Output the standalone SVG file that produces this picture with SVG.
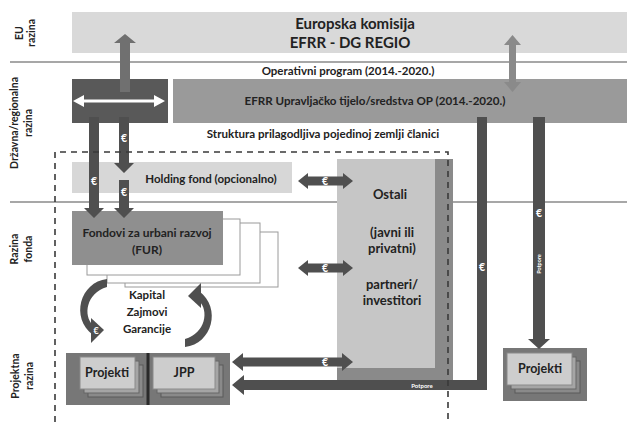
<svg xmlns="http://www.w3.org/2000/svg" width="627" height="422" viewBox="0 0 627 422">
<style>
text{font-family:Lato,"Liberation Sans",Arial,sans-serif;font-weight:bold;fill:#222}
.c{text-anchor:middle}
.lbl{font-size:10.5px}
.eu{font-size:10.5px;fill:#fff}
.w{fill:#fff}
.ar{fill:#4f4f4f}
.sep{stroke:#8a8a8a;stroke-width:1.3;fill:none}
.dash{stroke:#3a3a3a;stroke-width:1.6;fill:none;stroke-dasharray:6 5}
.stk{fill:#fff;stroke:#9a9a9a;stroke-width:1}
.pk{fill:#777}
.pa{fill:#8a8a8a;stroke:#5a5a5a;stroke-width:1}
.pb{fill:#a5a5a5;stroke:#666;stroke-width:1}
.pc{fill:#cdcdcd;stroke:#8a8a8a;stroke-width:1}
</style>

<!-- level separators -->
<g id="separators">
<line class="sep" x1="10" y1="62" x2="627" y2="62"/>
<line class="sep" x1="10" y1="202" x2="627" y2="202"/>
</g>

<!-- level labels -->
<g id="level-labels">
<g transform="translate(0,33) rotate(-90)"><text class="c lbl" x="0" y="23">EU</text><text class="c lbl" x="0" y="35">razina</text></g>
<g transform="translate(0,123) rotate(-90)"><text class="c lbl" x="0" y="18">Državna/regionalna</text><text class="c lbl" x="0" y="32">razina</text></g>
<g transform="translate(0,249) rotate(-90)"><text class="c lbl" x="0" y="18">Razina</text><text class="c lbl" x="0" y="32">fonda</text></g>
<g transform="translate(0,376) rotate(-90)"><text class="c lbl" x="0" y="19">Projektna</text><text class="c lbl" x="0" y="33">razina</text></g>
</g>

<g id="eu-commission">
<rect x="72" y="12" width="555" height="41" fill="#d9d9d9"/>
<text class="c" x="355" y="29" font-size="15">Europska komisija</text>
<text class="c" x="350" y="48" font-size="15">EFRR - DG REGIO</text>
</g>

<g id="operativni-program">
<text class="c" x="348" y="75" font-size="11.5">Operativni program (2014.-2020.)</text>
</g>

<g id="national-box">
<rect x="72" y="79" width="96" height="44" fill="#595959"/>
<polygon fill="#fff" points="73,101 84,95 84,99.5 154,99.5 154,95 165,101 154,107 154,102.5 84,102.5 84,107"/>
</g>

<g id="efrr-managing">
<rect x="173" y="79" width="454" height="44" fill="#9a9a9a"/>
<text class="c" x="375" y="105" font-size="11.6">EFRR Upravljačko tijelo/sredstva OP (2014.-2020.)</text>
</g>

<g id="struktura-label">
<text class="c" x="323" y="138" font-size="11.6">Struktura prilagodljiva pojedinoj zemlji članici</text>
</g>

<g id="holding-fond">
<rect x="72" y="162" width="220" height="31" fill="#d7d7d7"/>
<text class="c" x="211" y="183" font-size="11.5">Holding fond (opcionalno)</text>
</g>

<g id="fur">
<rect class="stk" x="125" y="232" width="153" height="55"/>
<rect class="stk" x="107" y="223" width="153" height="60"/>
<rect class="stk" x="87" y="219" width="153" height="56"/>
<rect x="72" y="211" width="151" height="54" fill="#8f8f8f"/>
<text class="c" x="147" y="237" font-size="12">Fondovi za urbani razvoj</text>
<text class="c" x="147" y="254" font-size="12">(FUR)</text>
</g>

<g id="instruments">
<text class="c" x="147" y="299" font-size="11.5">Kapital</text>
<text class="c" x="147" y="316" font-size="11.5">Zajmovi</text>
<text class="c" x="147" y="333" font-size="11.5">Garancije</text>
</g>

<g id="ostali">
<rect x="337" y="159" width="116" height="221" fill="#8a8a8a"/>
<line class="sep" x1="435" y1="202" x2="453" y2="202"/>
<rect x="337" y="159" width="98" height="209" fill="#c6c6c6"/>
<text class="c" x="390" y="199" font-size="13">Ostali</text>
<text class="c" x="392" y="237" font-size="13">(javni ili</text>
<text class="c" x="392" y="253" font-size="13">privatni)</text>
<text class="c" x="392" y="289" font-size="13">partneri/</text>
<text class="c" x="392" y="305" font-size="13">investitori</text>
</g>

<g id="projekti-jpp">
<rect class="pk" x="66" y="353" width="164" height="52"/>
<rect class="pa" x="88" y="365" width="55" height="32"/>
<rect class="pb" x="84" y="361" width="55" height="32"/>
<rect class="pc" x="80" y="357" width="55" height="32"/>
<rect class="pa" x="161" y="365" width="62" height="32"/>
<rect class="pb" x="157" y="361" width="62" height="32"/>
<rect class="pc" x="153" y="357" width="62" height="32"/>
<rect x="146.5" y="353" width="3" height="52" fill="#2a2a2a"/>
<text class="c" x="107" y="377" font-size="12.5">Projekti</text>
<text class="c" x="184" y="377" font-size="12.5">JPP</text>
</g>

<g id="projekti-right">
<rect class="pk" x="503" y="348" width="84" height="53"/>
<rect class="pa" x="515" y="361" width="65" height="32"/>
<rect class="pb" x="511" y="357" width="65" height="32"/>
<rect class="pc" x="507" y="353" width="65" height="32"/>
<text class="c" x="540" y="373" font-size="12.5">Projekti</text>
</g>

<g id="connectors">
<!-- EU up arrow -->
<polygon fill="#707070" points="120,92 120,43 114,43 125,34 136,43 130,43 130,92"/>
<!-- EU <-> managing authority -->
<polygon fill="#8a8a8a" points="512.5,35 521,45 516,45 516,82 521,82 512.5,92 504,82 509,82 509,45 504,45"/>
<!-- down arrows -->
<polygon class="ar" points="89,117 99,117 99,208 104,208 94,218 84,208 89,208"/>
<polygon class="ar" points="119,117 129,117 129,163 134,163 124,173 114,163 119,163"/>
<polygon class="ar" points="119,180 129,180 129,208 134,208 124,218 114,208 119,208"/>
<text class="eu c" x="94" y="185">€</text>
<text class="eu c" x="124" y="142">€</text>
<text class="eu c" x="124" y="196">€</text>
<!-- double arrows to Ostali -->
<polygon class="ar" points="298,181 308,173 308,176.5 343,176.5 343,173 353,181 343,189 343,185.5 308,185.5 308,189"/>
<polygon class="ar" points="298,268 308,260 308,263.5 343,263.5 343,260 353,268 343,276 343,272.5 308,272.5 308,276"/>
<polygon class="ar" points="232,362 243,353 243,357.5 342,357.5 342,353 353,362 342,371 342,366.5 243,366.5 243,371"/>
<text class="eu c" x="325" y="185">€</text>
<text class="eu c" x="325" y="272">€</text>
<text class="eu c" x="325" y="366">€</text>
<!-- Potpore L-bar -->
<polygon class="ar" points="232,385 244,375 244,380 477,380 477,117 487,117 487,390 244,390 244,395"/>
<text class="eu c" x="482" y="271">€</text>
<text class="c w" x="422" y="388" font-size="6">Potpore</text>
<!-- bar to right Projekti -->
<polygon class="ar" points="533,117 545,117 545,339 550,339 539,349 528,339 533,339"/>
<text class="eu c" x="539" y="217">€</text>
<text class="c w" font-size="5.5" transform="translate(541,264) rotate(-90)">Potpore</text>
<!-- circular arrows -->
<g id="cycle-left">
<path class="ar" d="M107,279 C80,282 70,318 93,335 L93,325 C83,316 86,293 107,287 Z"/>
<polygon class="ar" points="91,318 104,330 91,343"/>
<text class="c w" x="96" y="334" font-size="9">€</text>
</g>
<g id="cycle-right" transform="rotate(180 146 313)">
<path class="ar" d="M107,279 C80,282 70,318 93,335 L93,325 C83,316 86,293 107,287 Z"/>
<polygon class="ar" points="91,318 104,330 91,343"/>
</g>
</g>

<g id="boundary">
<path class="dash" d="M55,422 V152 H448 V422"/>
</g>
</svg>
